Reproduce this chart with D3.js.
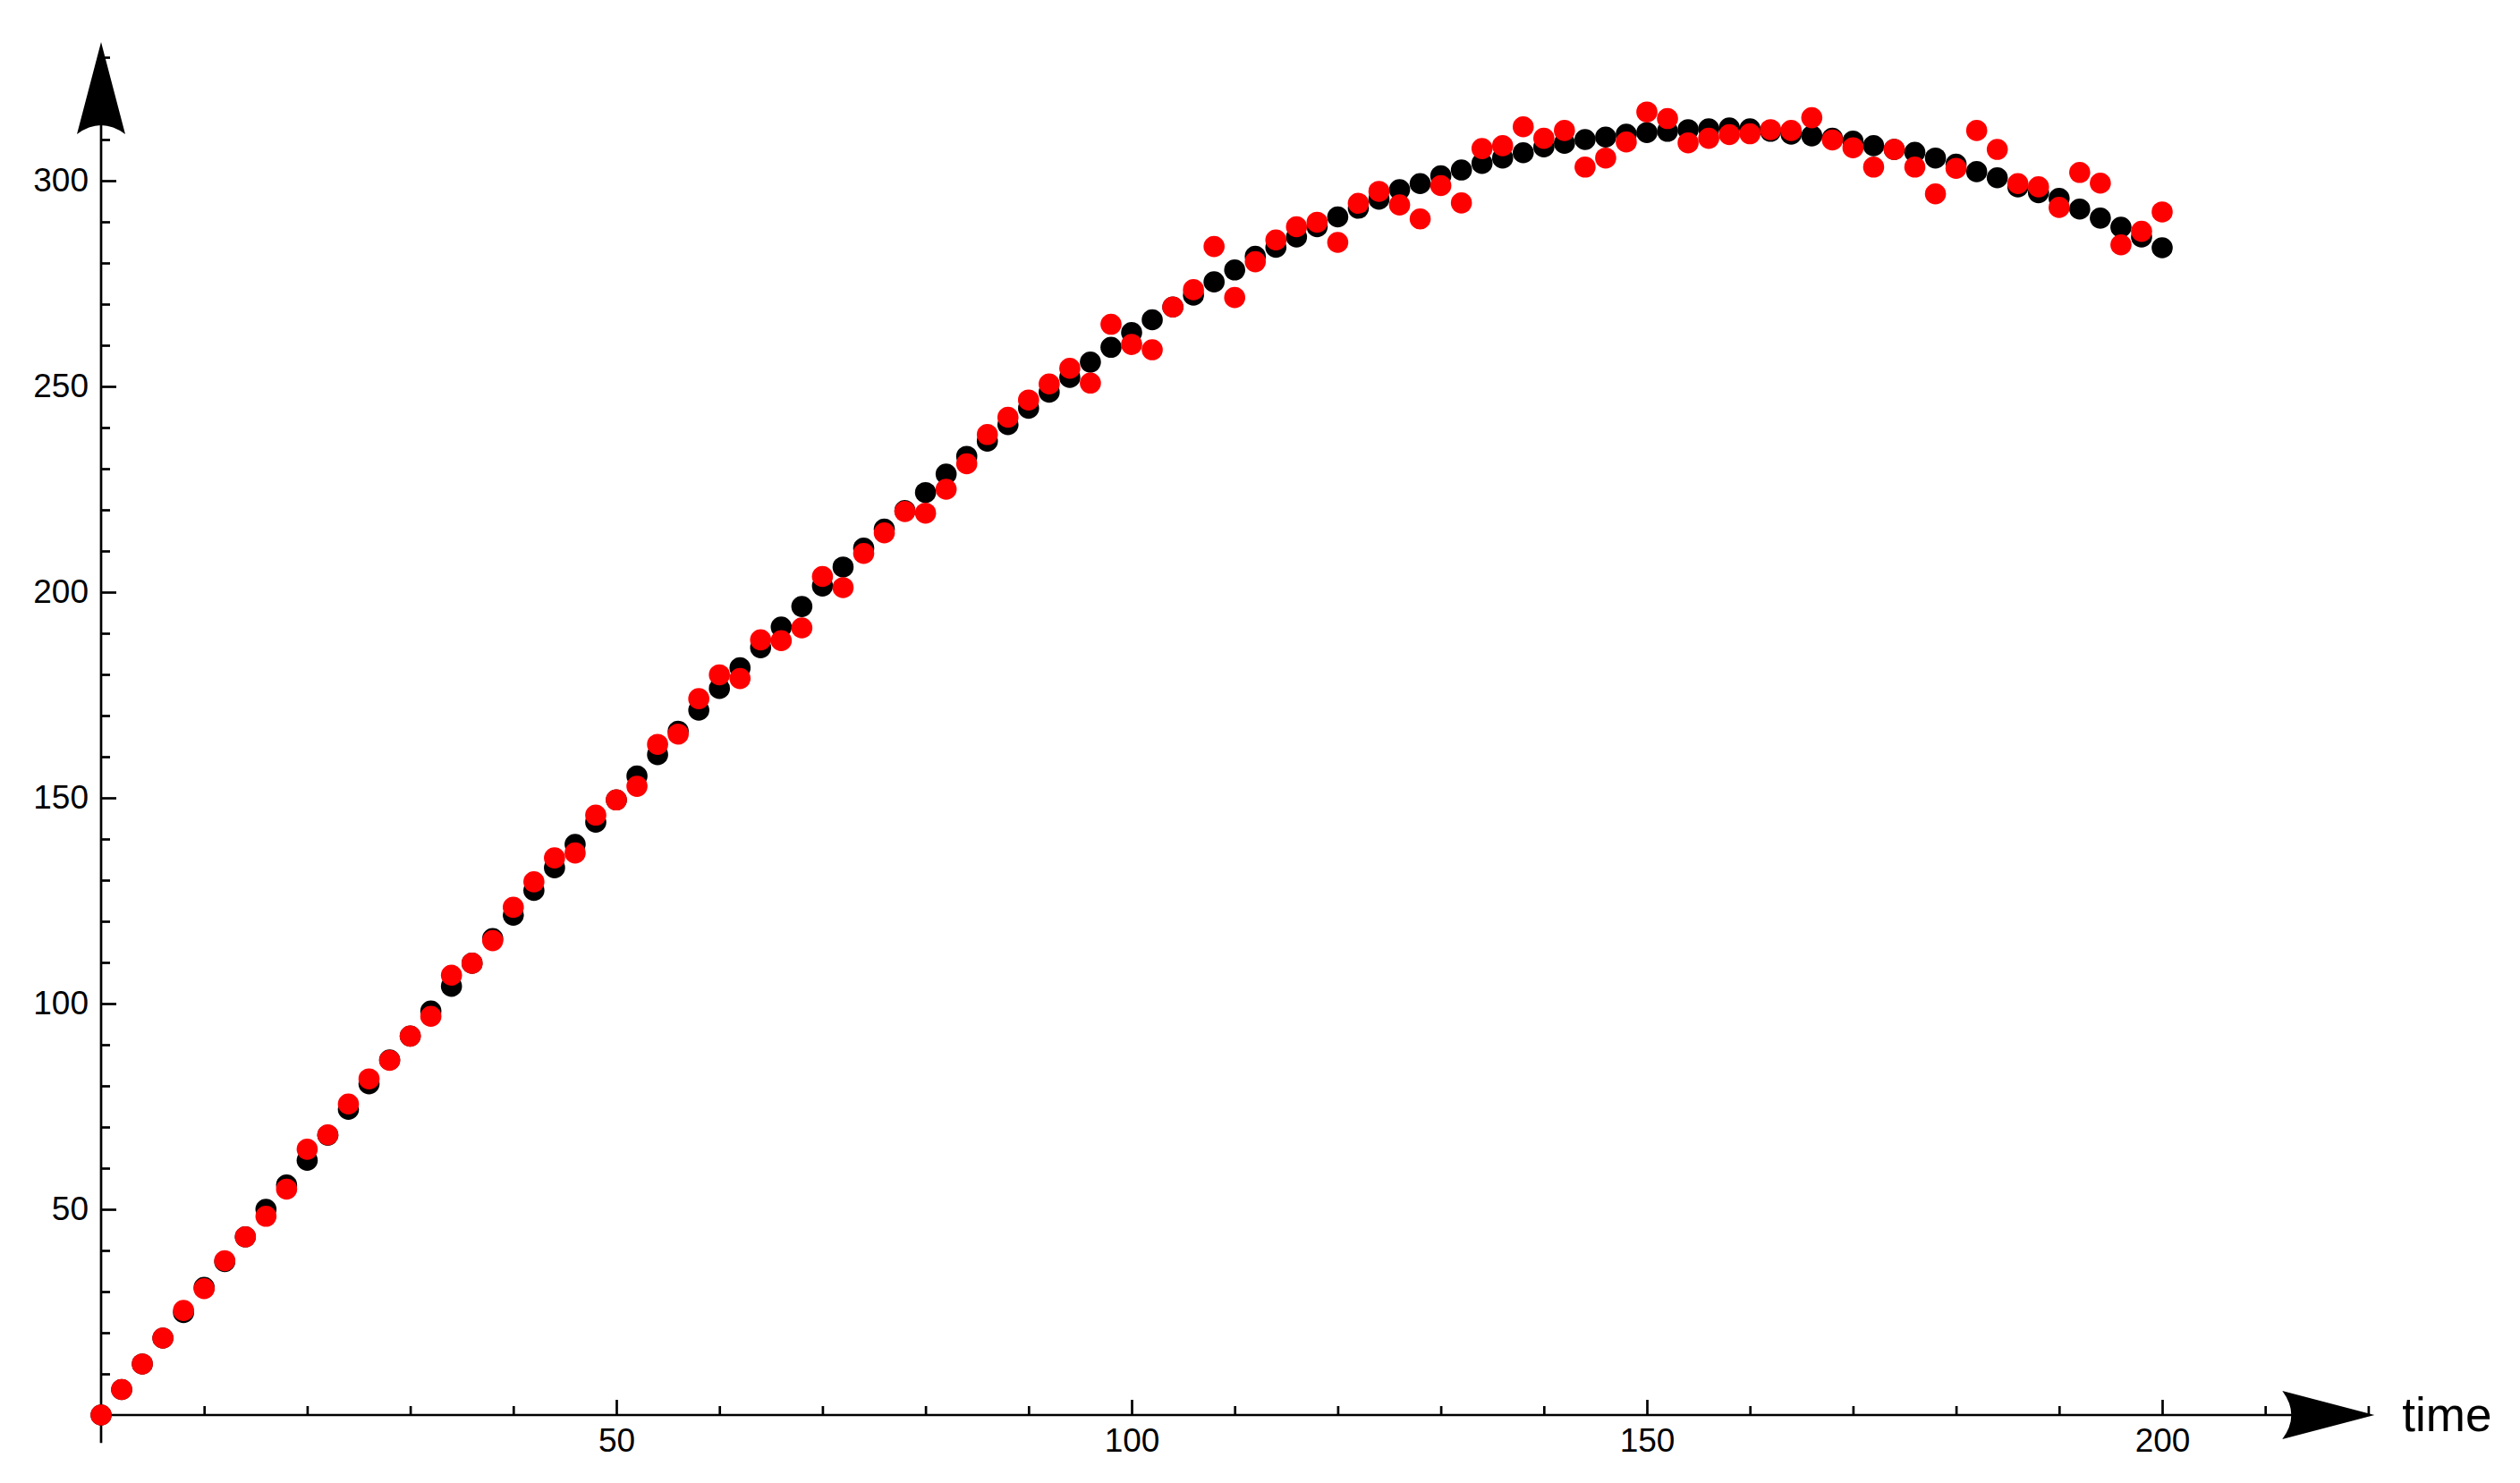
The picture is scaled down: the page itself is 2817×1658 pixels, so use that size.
<!DOCTYPE html>
<html>
<head>
<meta charset="utf-8">
<script src="https://cdn.jsdelivr.net/npm/d3@7"></script>
<style>
  html, body { margin: 0; padding: 0; background: #ffffff; }
  svg { display: block; }
  text { font-family: "Liberation Sans", Arial, sans-serif; }
</style>
</head>
<body>
<svg id="chart" width="2817" height="1658"></svg>
<script>
// ---------- data ----------
const times = d3.range(0, 201, 2); // sample times 0,2,...,200

const blackValues = [
  0, 6.2, 12.4, 18.7, 24.9, 31.0, 37.3, 43.3, 50.0, 55.9,
  61.9, 68.0, 74.3, 80.5, 86.3, 92.1, 98.2, 104.2, 109.8, 115.8,
  121.5, 127.5, 133.0, 138.7, 144.1, 149.5, 155.3, 160.5, 166.2, 171.3,
  176.6, 181.6, 186.5, 191.5, 196.5, 201.5, 206.1, 210.7, 215.3, 219.8,
  224.2, 228.7, 233.0, 236.7, 240.7, 244.7, 248.6, 252.2, 255.9, 259.5,
  263.1, 266.2, 269.3, 272.2, 275.4, 278.3, 281.6, 283.8, 286.3, 288.8,
  291.2, 293.3, 295.5, 297.8, 299.3, 301.2, 302.6, 304.2, 305.5, 306.8,
  308.2, 309.1, 310.0, 310.6, 311.3, 311.7, 312.0, 312.4, 312.6, 312.8,
  312.6, 312.0, 311.3, 310.9, 310.3, 309.6, 308.5, 307.6, 306.9, 305.5,
  304.0, 302.2, 300.7, 298.5, 297.1, 295.7, 293.1, 290.9, 288.7, 286.3,
  283.7
];

const redValues = [
  0, 6.2, 12.4, 18.7, 25.4, 30.7, 37.5, 43.3, 48.3, 54.9,
  64.6, 68.1, 75.6, 81.7, 86.2, 92.1, 96.9, 106.9, 109.8, 115.3,
  123.4, 129.6, 135.4, 136.6, 145.8, 149.5, 152.8, 163.0, 165.5, 174.1,
  179.9, 179.0, 188.4, 188.2, 191.3, 203.8, 201.1, 209.4, 214.4, 219.6,
  219.2, 225.0, 231.2, 238.3, 242.5, 246.7, 250.6, 254.4, 250.8, 265.1,
  260.2, 258.9, 269.3, 273.5, 284.0, 271.6, 280.3, 285.6, 288.8, 289.9,
  285.0, 294.5, 297.4, 294.1, 290.7, 298.8, 294.6, 307.8, 308.5, 313.1,
  310.3, 312.2, 303.3, 305.5, 309.4, 316.7, 315.1, 309.2, 310.3, 311.2,
  311.4, 312.4, 312.2, 315.3, 309.9, 308.0, 303.3, 307.6, 303.3, 296.8,
  303.0, 312.2, 307.6, 299.3, 298.5, 293.5, 302.0, 299.4, 284.4, 287.7,
  292.4
];

const xMajorTicks = [50, 100, 150, 200];
const xMinorTicks = [10, 20, 30, 40, 60, 70, 80, 90, 110, 120, 130, 140, 160, 170, 180, 190, 210, 220];
const yMajorTicks = [50, 100, 150, 200, 250, 300];
const yMinorTicks = [10, 20, 30, 40, 60, 70, 80, 90, 110, 120, 130, 140, 160, 170, 180, 190,
                     210, 220, 230, 240, 260, 270, 280, 290, 310, 320, 330];
const xAxisLabel = "time";
const xAxisEnd = 220.6;
const yAxisEnd = 333.7;
const yAxisBelow = -6.8;

// ---------- scales ----------
const svg = d3.select("#chart");
svg.append("rect").attr("width", 2817).attr("height", 1658).attr("fill", "#ffffff");

const x = d3.scaleLinear().domain([0, 200]).range([113, 2417]);
const y = d3.scaleLinear().domain([0, 300]).range([1582, 202]);

const axisColor = "#000000";
const strokeW = 2.7;
const fontSize = 37;

// ---------- axis lines ----------
svg.append("line")
  .attr("x1", x(0)).attr("x2", x(xAxisEnd) - 40)
  .attr("y1", y(0)).attr("y2", y(0))
  .attr("stroke", axisColor).attr("stroke-width", strokeW);
svg.append("line")
  .attr("x1", x(0)).attr("x2", x(0))
  .attr("y1", y(yAxisBelow)).attr("y2", y(yAxisEnd) + 40)
  .attr("stroke", axisColor).attr("stroke-width", strokeW);

// ---------- ticks ----------
function styleAxis(g) {
  g.select(".domain").remove();
  g.selectAll(".tick line").attr("stroke", axisColor).attr("stroke-width", strokeW);
  g.selectAll(".tick text")
    .attr("fill", "#000")
    .style("font-family", '"Liberation Sans", Arial, sans-serif')
    .style("font-size", fontSize + "px");
}

svg.append("g")
  .attr("transform", `translate(0,${y(0)})`)
  .call(d3.axisBottom(x).tickValues(xMinorTicks).tickSize(-10).tickFormat(""))
  .call(styleAxis);
svg.append("g")
  .attr("transform", `translate(0,${y(0)})`)
  .call(d3.axisBottom(x).tickValues(xMajorTicks).tickSize(-17).tickPadding(15).tickFormat(d3.format("d")))
  .call(styleAxis);

svg.append("g")
  .attr("transform", `translate(${x(0)},0)`)
  .call(d3.axisLeft(y).tickValues(yMinorTicks).tickSize(-10).tickFormat(""))
  .call(styleAxis);
svg.append("g")
  .attr("transform", `translate(${x(0)},0)`)
  .call(d3.axisLeft(y).tickValues(yMajorTicks).tickSize(-17).tickPadding(14).tickFormat(d3.format("d")))
  .call(styleAxis);

// ---------- arrowheads ----------
const aLen = 103, aHalf = 27, aNotch = 20;
function arrowPath() {
  // pointing toward +x, tip at origin
  return `M0,0 L${-aLen},${-aHalf} Q${-aLen + aNotch},0 ${-aLen},${aHalf} Z`;
}
svg.append("path")
  .attr("d", arrowPath())
  .attr("transform", `translate(${x(xAxisEnd)},${y(0)})`)
  .attr("fill", axisColor);
svg.append("path")
  .attr("d", arrowPath())
  .attr("transform", `translate(${x(0)},${y(yAxisEnd)}) rotate(-90)`)
  .attr("fill", axisColor);

// axis label
svg.append("text")
  .attr("x", x(xAxisEnd) + 31)
  .attr("y", y(0) + 18)
  .style("font-size", "53px")
  .attr("fill", "#000")
  .text(xAxisLabel);

// ---------- points ----------
const r = 11.8;
const blackData = times.map((t, i) => ({ t, v: blackValues[i] }));
const redData = times.map((t, i) => ({ t, v: redValues[i] }));

svg.append("g").selectAll("circle")
  .data(blackData).join("circle")
  .attr("cx", d => x(d.t)).attr("cy", d => y(d.v)).attr("r", r)
  .attr("fill", "#000000");

svg.append("g").selectAll("circle")
  .data(redData).join("circle")
  .attr("cx", d => x(d.t)).attr("cy", d => y(d.v)).attr("r", r)
  .attr("fill", "#ff0000");
</script>
</body>
</html>
